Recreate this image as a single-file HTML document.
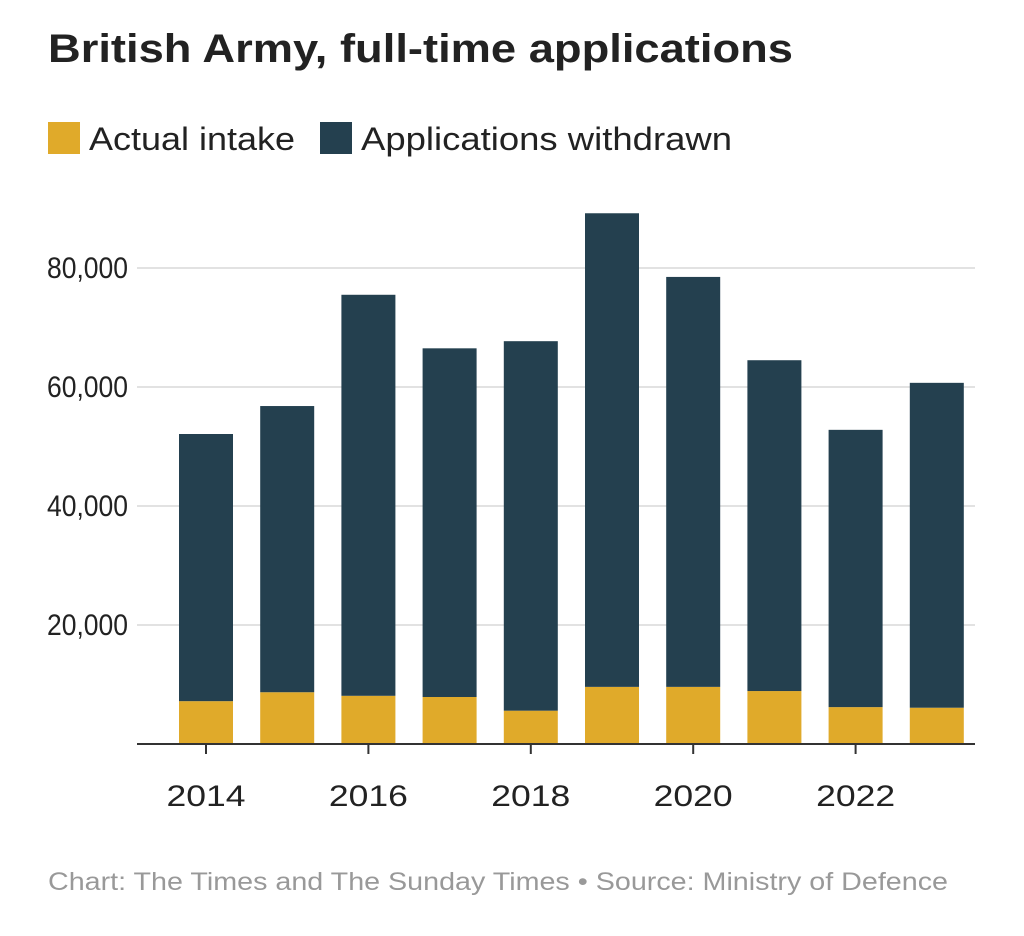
<!DOCTYPE html>
<html><head><meta charset="utf-8"><style>
body{margin:0;background:#fff;width:1024px;height:931px;overflow:hidden;font-family:"Liberation Sans",sans-serif}
</style></head><body>
<svg width="1024" height="931" xmlns="http://www.w3.org/2000/svg">
<text x="48" y="62" font-size="40" font-weight="bold" fill="#222" textLength="745" lengthAdjust="spacingAndGlyphs">British Army, full-time applications</text>
<g>
<rect x="48" y="122" width="32" height="32" fill="#e0aa2a"/>
<text x="89" y="150" font-size="32" fill="#222" textLength="206" lengthAdjust="spacingAndGlyphs">Actual intake</text>
<rect x="320" y="122" width="32" height="32" fill="#24404f"/>
<text x="361" y="150" font-size="32" fill="#222" textLength="371" lengthAdjust="spacingAndGlyphs">Applications withdrawn</text>
</g>
<g id="plot"></g>
<text x="48" y="890" font-size="25" fill="#999" textLength="900" lengthAdjust="spacingAndGlyphs">Chart: The Times and The Sunday Times • Source: Ministry of Defence</text>
</svg>
<script>
const years=[2014,2015,2016,2017,2018,2019,2020,2021,2022,2023];
const intake=[7200,8700,8100,7900,5600,9600,9600,8900,6200,6100];
const withdrawn=[44900,48100,67400,58600,62100,79600,68900,55600,46600,54600];
const yTicks=[20000,40000,60000,80000];
const yTickLabels=["20,000","40,000","60,000","80,000"];
const xTickYears=[2014,2016,2018,2020,2022];
const NS="http://www.w3.org/2000/svg";
const g=document.getElementById('plot');
const y=v=>744-v*(476/80000);
const x=yr=>206+(yr-2014)*81.2;
const bw=54;
function mk(t,a){const e=document.createElementNS(NS,t);for(const k in a)e.setAttribute(k,a[k]);g.appendChild(e);return e;}
yTicks.forEach((v,i)=>{
 const l=mk('line',{x1:137,x2:975,y1:y(v),y2:y(v),stroke:'#e2e2e2','stroke-width':2});
 
 
 const t=mk('text',{x:128,y:y(v)+10,'text-anchor':'end','font-size':30,fill:'#222',textLength:81,lengthAdjust:'spacingAndGlyphs'});
 t.textContent=yTickLabels[i];
 
 
});
years.forEach((yr,i)=>{
 const a=mk('rect',{x:x(yr)-bw/2,y:y(intake[i]),width:bw,height:744-y(intake[i]),fill:'#e0aa2a'});
 
 
 const tot=intake[i]+withdrawn[i];
 const b=mk('rect',{x:x(yr)-bw/2,y:y(tot),width:bw,height:y(intake[i])-y(tot),fill:'#24404f'});
 
 
});
const ax=mk('line',{x1:137,x2:975,y1:744,y2:744,stroke:'#333','stroke-width':2});


xTickYears.forEach(yr=>{
 const tk=mk('line',{x1:x(yr),x2:x(yr),y1:744,y2:754,stroke:'#333','stroke-width':2});
 
 
 const t=mk('text',{x:x(yr),y:806,'text-anchor':'middle','font-size':30,fill:'#222',textLength:79,lengthAdjust:'spacingAndGlyphs'});
 t.textContent=yr;
 
 
});
</script>
</body></html>
